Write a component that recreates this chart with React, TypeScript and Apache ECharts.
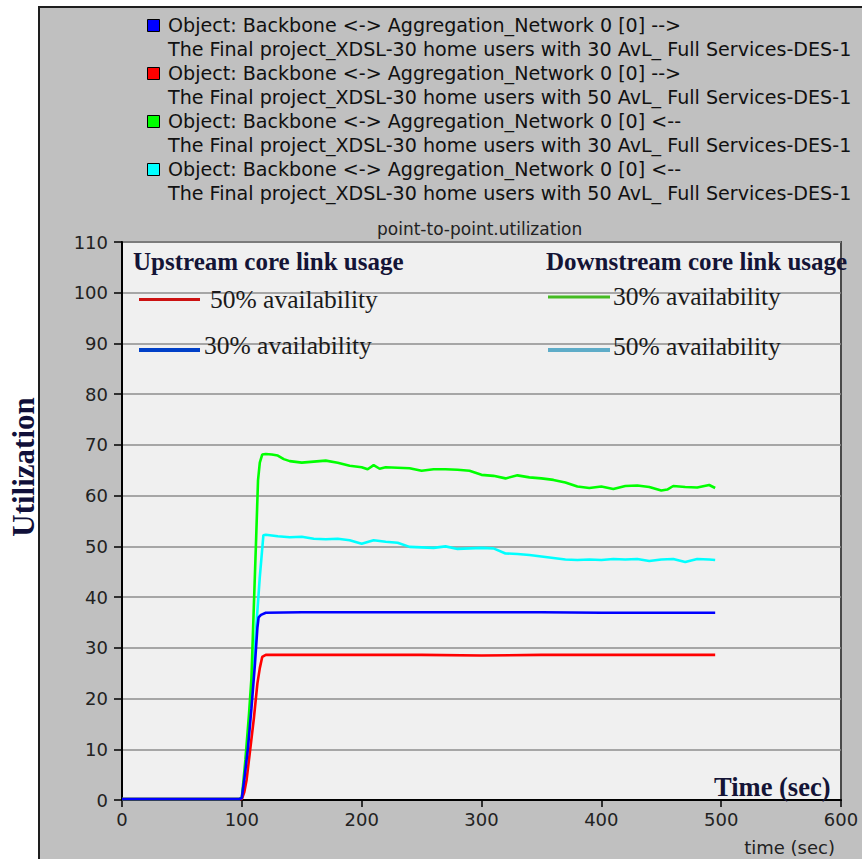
import React, { useEffect, useRef } from 'react';
import * as echarts from 'echarts';

// ---- data (time in sec, utilization) ----
const upstream30: [number, number][] = [
  [0, 0.2], [98, 0.2], [100, 0.4], [102, 4], [105, 10], [108, 18], [111, 27], [113, 34], [114, 36], [116, 36.5],
  [120, 36.9], [150, 37.0], [200, 37.0], [250, 37.0], [300, 37.0], [350, 37.0], [400, 36.9], [450, 36.9], [495, 36.9],
];
const upstream50: [number, number][] = [
  [0, 0.2], [100, 0.2], [102, 1.5], [104, 4], [107, 10], [110, 16], [113, 23], [115, 26], [117, 28.2],
  [120, 28.6], [150, 28.6], [200, 28.6], [250, 28.6], [300, 28.5], [350, 28.6], [400, 28.6], [450, 28.6], [495, 28.6],
];
const downstream30: [number, number][] = [
  [0, 0.2], [98, 0.2], [100, 0.4], [103, 8], [106, 17], [108, 24], [110, 38], [112, 52], [113.5, 63], [115, 66.5],
  [117, 68.1], [120, 68.2], [125, 68.1], [130, 67.9], [135, 67.2], [140, 66.8], [150, 66.5], [160, 66.7], [170, 66.9],
  [180, 66.5], [190, 65.9], [200, 65.6], [205, 65.2], [210, 66.0], [215, 65.3], [220, 65.6], [230, 65.5], [240, 65.4],
  [250, 64.9], [260, 65.2], [270, 65.2], [280, 65.1], [290, 64.9], [300, 64.1], [310, 63.9], [320, 63.4], [330, 64.0],
  [340, 63.6], [350, 63.4], [360, 63.1], [370, 62.6], [380, 61.8], [390, 61.5], [400, 61.8], [410, 61.3], [420, 61.9],
  [430, 62.0], [440, 61.7], [450, 61.0], [455, 61.2], [460, 61.9], [470, 61.7], [480, 61.6], [490, 62.1], [495, 61.5],
];
const downstream50: [number, number][] = [
  [0, 0.2], [98, 0.2], [100, 0.4], [103, 6], [106, 14], [109, 23], [112, 34], [115, 44], [118, 52.2], [120, 52.3],
  [130, 52.0], [140, 51.8], [150, 51.9], [160, 51.5], [170, 51.4], [180, 51.5], [190, 51.2], [200, 50.5], [210, 51.2],
  [220, 50.9], [230, 50.7], [240, 49.9], [250, 49.8], [260, 49.7], [270, 50.0], [280, 49.5], [290, 49.6], [300, 49.7],
  [310, 49.6], [320, 48.6], [330, 48.5], [340, 48.3], [350, 48.0], [360, 47.7], [370, 47.4], [380, 47.3], [390, 47.4],
  [400, 47.3], [410, 47.5], [420, 47.4], [430, 47.5], [440, 47.1], [450, 47.4], [460, 47.5], [470, 46.9], [480, 47.5],
  [490, 47.4], [495, 47.3],
];

const xTicks = { min: 0, max: 600, interval: 100 };
const yTicks = { min: 0, max: 110, interval: 10 };

const legendColors = ['#0000ff', '#ff0000', '#00ff00', '#00ffff'];
const legendFirst = [
  'Object: Backbone <-> Aggregation_Network 0 [0] -->',
  'Object: Backbone <-> Aggregation_Network 0 [0] -->',
  'Object: Backbone <-> Aggregation_Network 0 [0] <--',
  'Object: Backbone <-> Aggregation_Network 0 [0] <--',
];
const legendSecond = [
  'The Final project_XDSL-30 home users with 30 AvL_ Full Services-DES-1',
  'The Final project_XDSL-30 home users with 50 AvL_ Full Services-DES-1',
  'The Final project_XDSL-30 home users with 30 AvL_ Full Services-DES-1',
  'The Final project_XDSL-30 home users with 50 AvL_ Full Services-DES-1',
];
const seriesData = [upstream30, upstream50, downstream30, downstream50];

const SANS = '"DejaVu Sans", "Liberation Sans", sans-serif';
const SERIF = '"Liberation Serif", "Times New Roman", serif';

export default function App() {
  const ref = useRef<HTMLDivElement>(null);
  useEffect(() => {
    document.body.style.margin = '0';
    const chart = echarts.init(ref.current!, undefined, { renderer: 'svg', width: 862, height: 859 });

    const graphics: any[] = [
      { type: 'rect', silent: true, shape: { x: 0, y: 0, width: 38, height: 859 }, style: { fill: '#ffffff' } },
      { type: 'rect', silent: true, shape: { x: 0, y: 0, width: 862, height: 6 }, style: { fill: '#ffffff' } },
      { type: 'line', silent: true, shape: { x1: 39, y1: 6, x2: 39, y2: 859 }, style: { stroke: '#1e1e1e', lineWidth: 2 } },
      { type: 'line', silent: true, shape: { x1: 38, y1: 7, x2: 862, y2: 7 }, style: { stroke: '#1e1e1e', lineWidth: 2 } },
    ];

    legendColors.forEach((c, i) => {
      const top = 19 + 48 * i;
      graphics.push({
        type: 'rect', silent: true,
        shape: { x: 147.5, y: top + 0.5, width: 12, height: 12 },
        style: { fill: c, stroke: '#000', lineWidth: 1 },
      });
      graphics.push({
        type: 'text', silent: true, x: 168, y: top + 6.5,
        style: { text: legendFirst[i], fontFamily: SANS, fontSize: 19.1, fill: '#111', align: 'left', verticalAlign: 'middle', textAlign: 'left', textVerticalAlign: 'middle' },
      });
      graphics.push({
        type: 'text', silent: true, x: 168, y: top + 30.5,
        style: { text: legendSecond[i], fontFamily: SANS, fontSize: 19.1, fill: '#111', align: 'left', verticalAlign: 'middle', textAlign: 'left', textVerticalAlign: 'middle' },
      });
    });

    const txt = (text: string, x: number, y: number, size: number, weight: string, fill: string, family = SERIF, align = 'left') => ({
      type: 'text', silent: true, x, y, z: 10,
      style: { text, fontFamily: family, fontSize: size, fontWeight: weight, fill, align, verticalAlign: 'middle', textAlign: align, textVerticalAlign: 'middle' },
    });
    const seg = (x1: number, x2: number, y: number, stroke: string, w: number) => ({
      type: 'line', silent: true, z: 10, shape: { x1, y1: y, x2, y2: y }, style: { stroke, lineWidth: w },
    });

    graphics.push(
      txt('Upstream core link usage', 133, 261, 25, 'bold', '#141436'),
      txt('Downstream core link usage', 546, 261, 25, 'bold', '#141436'),
      seg(139, 200, 299.5, '#cc1111', 3),
      txt('50% availability', 210, 299, 25.5, 'normal', '#1a1a1a'),
      seg(139, 200, 350, '#0040c8', 4),
      txt('30% availability', 204, 345, 25.5, 'normal', '#1a1a1a'),
      seg(548, 610, 297, '#44bb22', 3),
      txt('30% availability', 613, 296, 25.5, 'normal', '#1a1a1a'),
      seg(548, 610, 350, '#5eacc8', 4),
      txt('50% availability', 613, 346, 25.5, 'normal', '#1a1a1a'),
      txt('Time (sec)', 714, 787, 26.5, 'bold', '#141436'),
      txt('time (sec)', 835, 847, 18, 'normal', '#222', SANS, 'right'),
      {
        type: 'text', silent: true, x: 23, y: 467, rotation: Math.PI / 2, z: 10,
        style: { text: 'Utilization', fontFamily: SERIF, fontSize: 31, fontWeight: 'bold', fill: '#10103a', align: 'center', verticalAlign: 'middle', textAlign: 'center', textVerticalAlign: 'middle' },
      },
    );

    // draw order: cyan, green, red, blue (blue on top)
    const order = [3, 2, 1, 0];
    const series = order.map((i) => ({
      type: 'line',
      name: legendFirst[i] + '\n' + legendSecond[i],
      data: seriesData[i],
      showSymbol: false,
      symbol: 'none',
      lineStyle: { color: legendColors[i], width: 2.6 },
      itemStyle: { color: legendColors[i] },
      z: 3,
    }));

    chart.setOption({
      animation: false,
      backgroundColor: '#c0c0c0',
      title: {
        text: 'point-to-point.utilization',
        left: 377,
        top: 220,
        padding: 0,
        textStyle: { fontFamily: SANS, fontSize: 17, fontWeight: 'normal', color: '#222' },
      },
      grid: {
        left: 122, top: 242, right: 21, bottom: 59,
        show: true, backgroundColor: '#f0f0f0', borderColor: '#4a4a4a', borderWidth: 2,
      },
      xAxis: {
        type: 'value', ...xTicks,
        axisLine: { show: true, lineStyle: { color: '#000', width: 2 } },
        axisTick: { show: true, inside: false, length: 7, lineStyle: { color: '#000', width: 1.5 } },
        axisLabel: { margin: 10, fontFamily: SANS, fontSize: 18, color: '#222' },
        splitLine: { show: false },
      },
      yAxis: {
        type: 'value', ...yTicks,
        axisLine: { show: true, lineStyle: { color: '#000', width: 2 } },
        axisTick: { show: true, inside: false, length: 8, lineStyle: { color: '#000', width: 1.5 } },
        axisLabel: { margin: 14, fontFamily: SANS, fontSize: 18, color: '#222' },
        splitLine: { show: true, lineStyle: { color: '#8e8e8e', width: 1.5 } },
      },
      series,
      graphic: graphics,
    });
    return () => chart.dispose();
  }, []);
  return <div ref={ref} style={{ width: 862, height: 859 }} />;
}
